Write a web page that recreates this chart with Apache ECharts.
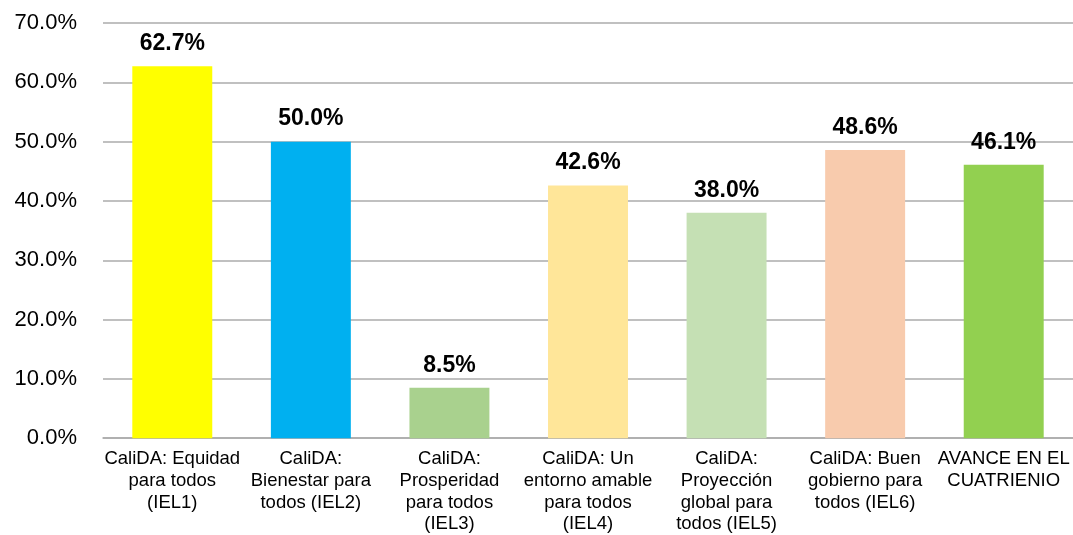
<!DOCTYPE html>
<html>
<head>
<meta charset="utf-8">
<script src="https://cdn.jsdelivr.net/npm/echarts@6/dist/echarts.min.js"></script>
<style>
html,body{margin:0;padding:0;background:#fff;}
#chart{width:1073px;height:535px;}
</style>
</head>
<body>
<div id="chart"></div>
<script>
const categories = [
  "CaliDA: Equidad\npara todos\n(IEL1)",
  "CaliDA:\nBienestar para\ntodos (IEL2)",
  "CaliDA:\nProsperidad\npara todos\n(IEL3)",
  "CaliDA: Un\nentorno amable\npara todos\n(IEL4)",
  "CaliDA:\nProyección\nglobal para\ntodos (IEL5)",
  "CaliDA: Buen\ngobierno para\ntodos (IEL6)",
  "AVANCE EN EL\nCUATRIENIO"
];
const values = [62.7, 50.0, 8.5, 42.6, 38.0, 48.6, 46.1];
const barColors = ["#FFFF00", "#00B0F0", "#A9D18E", "#FFE699", "#C5E0B4", "#F8CBAD", "#92D050"];
const yTicks = [0, 10, 20, 30, 40, 50, 60, 70];

const chart = echarts.init(document.getElementById('chart'), null, {renderer: 'canvas'});
chart.setOption({
  animation: false,
  backgroundColor: '#fff',
  grid: {left: 103, right: 0, top: 23, bottom: 95, containLabel: false},
  xAxis: {
    type: 'category',
    data: categories,
    axisLine: {show: true, lineStyle: {color: '#ababab', width: 1.5}},
    axisTick: {show: false},
    axisLabel: {
      interval: 0,
      color: '#000',
      fontFamily: 'Liberation Sans, Arial, sans-serif',
      fontSize: 18.5,
      lineHeight: 21.7,
      margin: 10
    }
  },
  yAxis: {
    type: 'value',
    min: yTicks[0],
    max: yTicks[yTicks.length - 1],
    interval: 10,
    axisLine: {show: false},
    axisTick: {show: false},
    splitLine: {show: true, lineStyle: {color: '#ababab', width: 1.5}},
    axisLabel: {
      color: '#000',
      fontFamily: 'Liberation Sans, Arial, sans-serif',
      fontSize: 22,
      margin: 26,
      formatter: v => v.toFixed(1) + '%'
    }
  },
  series: [{
    type: 'bar',
    barWidth: '57.7%',
    data: values.map((v, i) => ({value: v, itemStyle: {color: barColors[i]}})),
    label: {
      show: true,
      position: 'top',
      distance: 11,
      color: '#000',
      fontWeight: 'bold',
      fontFamily: 'Liberation Sans, Arial, sans-serif',
      fontSize: 23,
      formatter: p => p.value.toFixed(1) + '%'
    }
  }]
});
</script>
</body>
</html>
